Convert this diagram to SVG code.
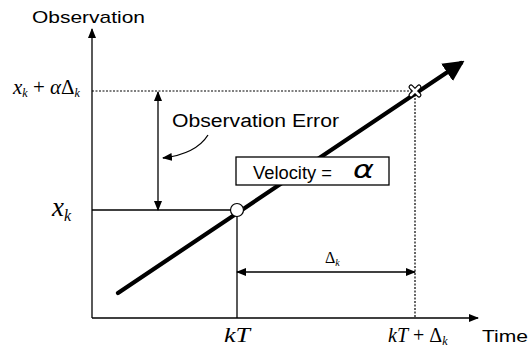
<svg xmlns="http://www.w3.org/2000/svg" width="531" height="350" viewBox="0 0 531 350">
<defs>
<style>
.sans{font-family:"Liberation Sans",Arial,sans-serif;fill:#000}
.math{font-family:"Liberation Serif","Times New Roman",serif;font-style:italic;fill:#000}
.mup{font-family:"Liberation Serif","Times New Roman",serif;font-style:normal;fill:#000}
.ln{stroke:#000;stroke-width:1.3;fill:none}
.dot{stroke:#000;stroke-width:1.2;fill:none;stroke-dasharray:2 1.5}
</style>
<marker id="ah" viewBox="0 0 10 10" refX="9" refY="5" markerWidth="10" markerHeight="10" markerUnits="userSpaceOnUse" orient="auto-start-reverse">
<path d="M0,1 L10,5 L0,9 Z" fill="#000"/>
</marker>
<marker id="ahBig" viewBox="0 0 10 10" refX="8" refY="5" markerWidth="5" markerHeight="5" orient="auto">
<path d="M0,0 L10,5 L0,10 Z" fill="#000"/>
</marker>
</defs>
<rect width="531" height="350" fill="#fff"/>
<g id="connectors">
<line id="y-axis" class="ln" x1="92" y1="318" x2="92" y2="29" marker-end="url(#ah)"/>
<line id="x-axis" class="ln" x1="92" y1="318" x2="478" y2="318" marker-end="url(#ah)"/>
<line class="dot" x1="92" y1="91" x2="415" y2="91"/>
<line class="dot" x1="415" y1="91" x2="415" y2="318"/>
<line class="ln" x1="92" y1="210" x2="231" y2="210"/>
<line class="ln" x1="237" y1="216" x2="237" y2="318"/>
<line class="ln" x1="158" y1="92" x2="158" y2="210" marker-start="url(#ah)" marker-end="url(#ah)"/>
<line class="ln" x1="237" y1="272" x2="415" y2="272" marker-start="url(#ah)" marker-end="url(#ah)"/>
<path class="ln" d="M208,135 Q196,154 163,158" marker-end="url(#ah)"/>
<line id="trend" x1="118" y1="293" x2="461" y2="63" stroke="#000" stroke-width="4.2" stroke-linecap="round" marker-end="url(#ahBig)"/>
</g>
<g id="point-k">
<circle cx="237" cy="210" r="6.5" fill="#fff" stroke="#000" stroke-width="1.2"/>
</g>
<g id="point-k-delta">
<path d="M411,87 L419,95 M419,87 L411,95" stroke="#000" stroke-width="5" stroke-linecap="round"/>
<path d="M411,87 L419,95 M419,87 L411,95" stroke="#fff" stroke-width="2.6" stroke-linecap="round"/>
</g>
<g id="velocity-box">
<rect x="236" y="157" width="153" height="28" fill="#fff" stroke="#000" stroke-width="1.3"/>
<text class="sans" x="253" y="179" font-size="18" textLength="79" lengthAdjust="spacingAndGlyphs">Velocity =</text>
<text x="353" y="178" font-family="'DejaVu Sans',sans-serif" font-style="italic" font-size="24" textLength="21" lengthAdjust="spacingAndGlyphs">α</text>
</g>
<g id="labels">
<text class="sans" x="32" y="23" font-size="17" textLength="113" lengthAdjust="spacingAndGlyphs">Observation</text>
<text class="sans" x="172" y="127" font-size="18" textLength="167" lengthAdjust="spacingAndGlyphs">Observation Error</text>
<text class="sans" x="482" y="342" font-size="17" textLength="46" lengthAdjust="spacingAndGlyphs">Time</text>
<text class="math" x="13" y="94" font-size="21">x<tspan font-size="12" dy="3">k</tspan><tspan class="mup" dy="-3"> + </tspan>α<tspan class="mup">Δ</tspan><tspan font-size="12" dy="3">k</tspan></text>
<text class="math" x="52" y="216" font-size="27">x<tspan font-size="16" dy="5">k</tspan></text>
<text class="math" x="224" y="342" font-size="21" textLength="26" lengthAdjust="spacingAndGlyphs">kT</text>
<text class="math" x="388" y="342" font-size="20">kT<tspan class="mup"> + Δ</tspan><tspan font-size="12" dy="3">k</tspan></text>
<text class="mup" x="325" y="263" font-size="16">Δ<tspan class="math" font-size="10" dy="3">k</tspan></text>
</g>
</svg>
